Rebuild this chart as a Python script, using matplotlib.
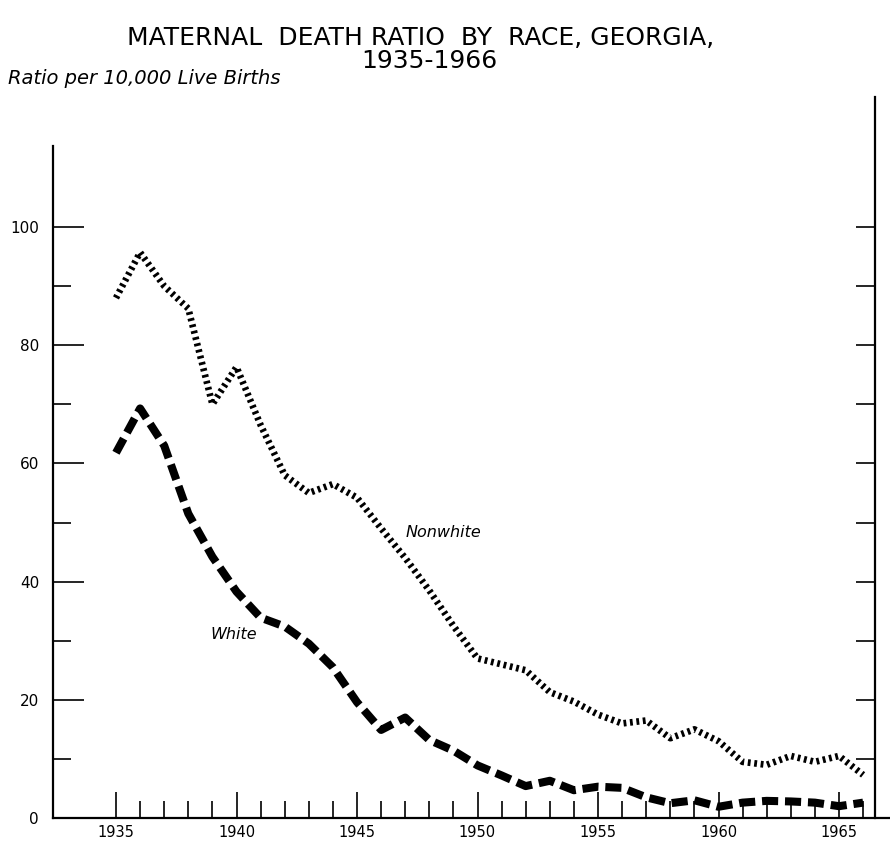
import matplotlib
matplotlib.use('Agg')
import matplotlib.pyplot as plt
from matplotlib.ticker import FixedLocator

plt.rcParams['font.family'] = ['DejaVu Sans']

# ---- data (ratio per 10,000 live births) ----
years = list(range(1935, 1967))
nonwhite = [88.0, 95.7, 90.0, 86.2, 70.0, 76.3, 66.5, 58.0, 55.0, 56.5,
            54.2, 49.0, 44.0, 38.5, 32.5, 27.0, 26.0, 25.0, 21.3, 19.7,
            17.5, 16.0, 16.5, 13.5, 15.0, 13.0, 9.5, 9.0, 10.5, 9.5,
            10.5, 7.3]
white = [61.8, 69.3, 63.0, 51.5, 44.2, 38.3, 33.9, 32.4, 29.5, 25.5,
         19.6, 14.9, 17.0, 13.2, 11.4, 8.9, 7.2, 5.4, 6.3, 4.7,
         5.3, 5.1, 3.5, 2.5, 3.0, 1.9, 2.6, 2.9, 2.8, 2.6,
         2.0, 2.6]
x_label_years = [1935, 1940, 1945, 1950, 1955, 1960, 1965]
y_label_values = [0, 20, 40, 60, 80, 100]
y_minor_values = [10, 30, 50, 70, 90]
right_tick_values = [10, 20, 30, 40, 50, 60, 70, 80, 90, 100]

title1 = 'MATERNAL  DEATH RATIO  BY  RACE, GEORGIA,'
title2 = '1935-1966'
subtitle = 'Ratio per 10,000 Live Births'

# ---- figure ----
W_PX, H_PX = 890, 843
fig = plt.figure(figsize=(W_PX / 100, H_PX / 100), dpi=100)
left_px, bottom_px, top_px = 53, 818, 97
ax = fig.add_axes([left_px / W_PX, 1 - bottom_px / H_PX,
                   1 - left_px / W_PX, (bottom_px - top_px) / H_PX])

px_per_year = 24.1
x0 = 1935 + (left_px - 116) / px_per_year
x1 = 1935 + (W_PX - 116) / px_per_year
ax.set_xlim(x0, x1)
ax.set_ylim(0, 122)

ax.plot(years, nonwhite, color='black', lw=4.8, dashes=(0.42, 0.55),
        dash_capstyle='butt', solid_capstyle='butt')
ax.plot(years, white, color='black', lw=5.8, dashes=(2.0, 0.85),
        dash_capstyle='butt', solid_capstyle='butt')

# spines
ax.spines['top'].set_visible(False)
ax.spines['right'].set_visible(False)
ax.spines['left'].set_linewidth(1.6)
ax.spines['bottom'].set_linewidth(1.6)
ax.spines['left'].set_bounds(0, 113.7)

# ticks
ax.xaxis.set_major_locator(FixedLocator(x_label_years))
ax.xaxis.set_minor_locator(FixedLocator(years))
ax.set_xticklabels([str(y) for y in x_label_years])
ax.tick_params(axis='x', which='major', direction='in', length=19, width=1.2,
               pad=5, labelsize=10.5)
ax.tick_params(axis='x', which='minor', direction='in', length=12, width=1.2)

ax.yaxis.set_major_locator(FixedLocator(y_label_values))
ax.yaxis.set_minor_locator(FixedLocator(y_minor_values))
ax.set_yticklabels([str(v) for v in y_label_values])
ax.tick_params(axis='y', which='major', direction='in', length=22, width=1.2,
               pad=10, labelsize=11)
ax.tick_params(axis='y', which='minor', direction='in', length=13, width=1.2)

# right-hand axis line with inward ticks
ax2 = ax.twinx()
ax2.set_ylim(0, 122)
for s in ['top', 'left', 'bottom']:
    ax2.spines[s].set_visible(False)
ax2.spines['right'].set_position(('data', 1966.5))
ax2.spines['right'].set_bounds(0, 122)
ax2.spines['right'].set_linewidth(1.6)
ax2.yaxis.set_major_locator(FixedLocator(right_tick_values))
ax2.tick_params(axis='y', which='major', direction='in', length=14, width=1.2,
                labelright=False)

# labels
ax.text(1947.0, 48.3, 'Nonwhite', style='italic', fontsize=11.5,
        ha='left', va='center')
ax.text(1938.9, 31.0, 'White', style='italic', fontsize=11.5,
        ha='left', va='center')

fig.text(421 / W_PX, 1 - 38 / H_PX, title1, ha='center', va='center',
         fontsize=18)
fig.text(429 / W_PX, 1 - 61 / H_PX, title2, ha='center', va='center',
         fontsize=18)
fig.text(8 / W_PX, 1 - 78 / H_PX, subtitle, style='italic', fontsize=14,
         ha='left', va='center')

fig.savefig('out.png', dpi=100)
